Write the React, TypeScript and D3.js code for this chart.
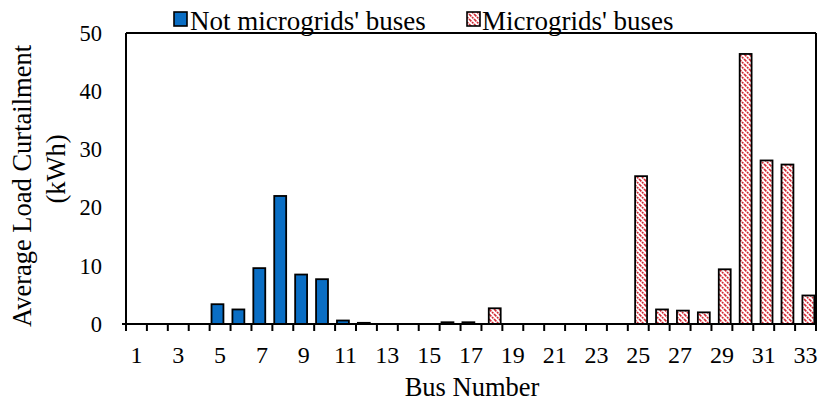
import React from "react";
import * as d3 from "d3";

// Bus indices 1..33
const buses: number[] = Array.from({ length: 33 }, (_, i) => i + 1);

// Average load curtailment (kWh) at buses outside microgrids
const notMicrogridValues: number[] = [
  0, 0, 0, 0, 3.4, 2.5, 9.6, 22.0, 8.5, 7.7, 0.6, 0.2, 0, 0, 0, 0.3, 0.3,
  0, 0, 0, 0, 0, 0, 0, 0, 0, 0, 0, 0, 0, 0, 0, 0,
];

// Average load curtailment (kWh) at buses inside microgrids
const microgridValues: number[] = [
  0, 0, 0, 0, 0, 0, 0, 0, 0, 0, 0, 0, 0, 0, 0, 0, 0,
  2.7, 0, 0, 0, 0, 0, 0, 25.4, 2.5, 2.3, 2.0, 9.4, 46.4, 28.1, 27.4, 4.9,
];

const yTicks: number[] = [0, 10, 20, 30, 40, 50];
const xTickLabels: number[] = buses.filter((b) => b % 2 === 1);

const seriesNames: string[] = ["Not microgrids' buses", "Microgrids' buses"];

const W = 820;
const H = 407;
const left = 126;
const right = 816;
const top = 33;
const bottom = 324;

const BLUE = "#0a6ec4";
const RED = "#d42a35";
const serif: React.CSSProperties = {
  fontFamily: '"Liberation Serif", "Times New Roman", "DejaVu Serif", serif',
};

export default function App() {
  const x = d3
    .scaleBand<number>()
    .domain(buses)
    .range([left, right])
    .padding(0);
  const bw = x.bandwidth();
  const y = d3.scaleLinear().domain([0, 50]).range([bottom, top]);

  const barW = bw * 0.57;

  return (
    <svg
      width={W}
      height={H}
      style={{ position: "absolute", left: 0, top: 0, background: "#fff" }}
    >
      <defs>
        <pattern id="hatch" patternUnits="userSpaceOnUse" width={5} height={5}>
          <rect width={5} height={5} fill="#fff" />
          <path
            d="M0,0 L5,5 M-1,4 L1,6 M4,-1 L6,1"
            stroke={RED}
            strokeWidth={1.6}
            strokeDasharray="2,0.8"
          />
        </pattern>
      </defs>

      {/* frame */}
      <line x1={left} x2={right} y1={top} y2={top} stroke="#000" strokeWidth={2} />
      <line x1={right} x2={right} y1={top} y2={bottom} stroke="#000" strokeWidth={2} />

      {/* bars: outside microgrids */}
      {buses.map((b, i) =>
        notMicrogridValues[i] > 0 ? (
          <rect
            key={"n" + b}
            x={(x(b) as number) + bw * 0.09}
            y={y(notMicrogridValues[i])}
            width={barW}
            height={y(0) - y(notMicrogridValues[i])}
            fill={BLUE}
            stroke="#000"
            strokeWidth={1.8}
          />
        ) : null
      )}

      {/* bars: inside microgrids */}
      {buses.map((b, i) =>
        microgridValues[i] > 0 ? (
          <rect
            key={"m" + b}
            x={(x(b) as number) + bw * 0.35}
            y={y(microgridValues[i])}
            width={barW}
            height={y(0) - y(microgridValues[i])}
            fill="url(#hatch)"
            stroke="#000"
            strokeWidth={1.8}
          />
        ) : null
      )}

      {/* axes */}
      <line x1={left} x2={left} y1={top} y2={bottom} stroke="#000" strokeWidth={2} />
      <line x1={left - 4} x2={right} y1={bottom} y2={bottom} stroke="#000" strokeWidth={2} />
      {buses.map((b) => (
        <line
          key={"t" + b}
          x1={x(b) as number}
          x2={x(b) as number}
          y1={bottom}
          y2={bottom + 7}
          stroke="#000"
          strokeWidth={2}
        />
      ))}
      <line x1={right} x2={right} y1={bottom} y2={bottom + 7} stroke="#000" strokeWidth={2} />

      {yTicks.map((t) => (
        <text
          key={"y" + t}
          x={102}
          y={y(t)}
          dy="0.35em"
          textAnchor="end"
          style={serif}
          fontSize={22.5}
          fill="#000"
        >
          {t}
        </text>
      ))}

      {xTickLabels.map((b) => (
        <text
          key={"x" + b}
          x={(x(b) as number) + bw / 2}
          y={363}
          textAnchor="middle"
          style={serif}
          fontSize={24}
          fill="#000"
        >
          {b}
        </text>
      ))}

      <text
        x={472}
        y={396}
        textAnchor="middle"
        style={serif}
        fontSize={26.5}
        fill="#000"
      >
        Bus Number
      </text>

      <text
        transform="translate(31,186) rotate(-90)"
        textAnchor="middle"
        style={serif}
        fontSize={26.5}
        fill="#000"
      >
        Average Load Curtailment
      </text>
      <text
        transform="translate(65,169) rotate(-90)"
        textAnchor="middle"
        style={serif}
        fontSize={26.5}
        fill="#000"
      >
        (kWh)
      </text>

      {/* legend */}
      <rect x={174} y={12} width={13} height={14} fill={BLUE} stroke="#000" strokeWidth={1.6} />
      <text x={190} y={30} style={serif} fontSize={27} fill="#000">
        {seriesNames[0]}
      </text>
      <rect x={467} y={12} width={13} height={14} fill="url(#hatch)" stroke="#000" strokeWidth={1.6} />
      <text x={482} y={30} style={serif} fontSize={27} fill="#000">
        {seriesNames[1]}
      </text>
    </svg>
  );
}
